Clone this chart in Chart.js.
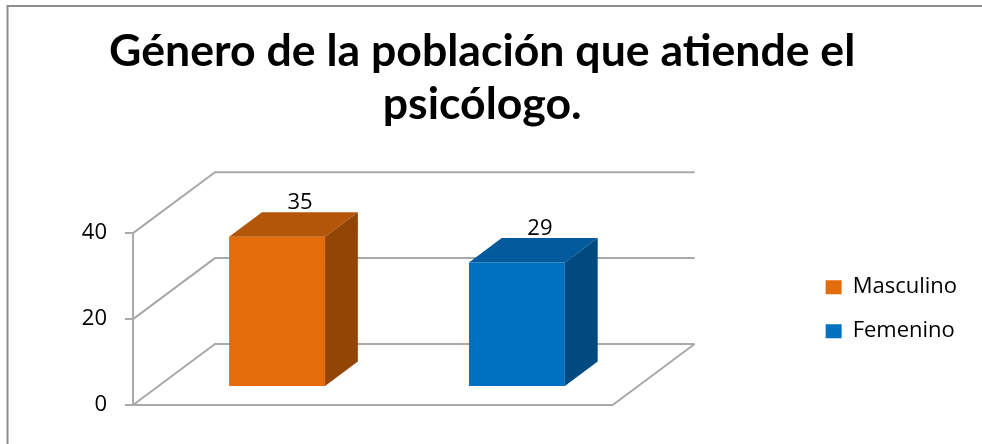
<!DOCTYPE html>
<html>
<head>
<meta charset="utf-8">
<script src="https://cdn.jsdelivr.net/npm/chart.js@4/dist/chart.umd.min.js"></script>
<style>
  html, body { margin: 0; padding: 0; background: #fff; }
  #wrap { width: 982px; height: 444px; position: relative; }
</style>
</head>
<body>
<div id="wrap"><canvas id="chart"></canvas></div>
<script>
const titleLines = ['Género de la población que atiende el', 'psicólogo.'];
const categories = [''];
const seriesNames = ['Masculino', 'Femenino'];
const masculino = [35];
const femenino = [29];
const yTicks = [0, 20, 40];

const frontColors = ['#E46C0A', '#0070C0'];
const topColors = ['#B4560A', '#005A9C'];
const sideColors = ['#934506', '#004A80'];
const gridColor = '#a9a9a9';
const textFont = '"Open Sans", sans-serif';

// 3d depth of the floor, and where the bars sit inside it
const depth = { dx: 82, dy: -61 };
const barFront = 0.295;
const barDepth = 0.4;

// legend placement: text block starts right of the plot
const legendFontSize = 22;
const legendPad = 22;
const legendBox = 16;
const legendLeft = 801;

const measure = document.createElement('canvas').getContext('2d');
measure.font = legendFontSize + 'px ' + textFont;
const legendTextW = Math.max(...seriesNames.map(s => measure.measureText(s).width));
const legendW = legendPad + legendBox + legendFontSize / 2 + legendTextW + 10;
const padRight = Math.max(0, 982 - legendLeft - legendW);

const bar3d = {
    id: 'bar3d',
    beforeDraw(chart) {
        const ctx = chart.ctx;
        const y = chart.scales.y;
        const { left, right } = chart.chartArea;
        ctx.save();
        // outer frame
        ctx.strokeStyle = '#8e8e8e';
        ctx.lineWidth = 2;
        ctx.beginPath();
        ctx.moveTo(7.5, 444);
        ctx.lineTo(7.5, 6);
        ctx.lineTo(982, 6);
        ctx.stroke();

        ctx.strokeStyle = gridColor;
        ctx.lineWidth = 2;
        ctx.beginPath();
        yTicks.forEach(v => {
            const py = y.getPixelForValue(v);
            ctx.moveTo(left, py);
            ctx.lineTo(left + depth.dx, py + depth.dy);
            ctx.lineTo(right + depth.dx, py + depth.dy);
        });
        const y0 = y.getPixelForValue(0);
        ctx.moveTo(left, y0);
        ctx.lineTo(right, y0);
        ctx.lineTo(right + depth.dx, y0 + depth.dy);
        ctx.stroke();
        ctx.restore();
    },
    beforeDatasetsDraw(chart) {
        chart.ctx.save();
        chart.ctx.translate(depth.dx * barFront, depth.dy * barFront);
    },
    afterDatasetsDraw(chart) {
        const ctx = chart.ctx;
        const bdx = depth.dx * barDepth;
        const bdy = depth.dy * barDepth;
        chart.data.datasets.forEach((ds, i) => {
            chart.getDatasetMeta(i).data.forEach((bar, j) => {
                const p = bar.getProps(['x', 'y', 'base', 'width'], true);
                const l = p.x - p.width / 2;
                const r = p.x + p.width / 2;
                ctx.fillStyle = topColors[i];
                ctx.beginPath();
                ctx.moveTo(l, p.y);
                ctx.lineTo(l + bdx, p.y + bdy);
                ctx.lineTo(r + bdx, p.y + bdy);
                ctx.lineTo(r, p.y);
                ctx.closePath();
                ctx.fill();
                ctx.fillStyle = sideColors[i];
                ctx.beginPath();
                ctx.moveTo(r, p.y);
                ctx.lineTo(r + bdx, p.y + bdy);
                ctx.lineTo(r + bdx, p.base + bdy);
                ctx.lineTo(r, p.base);
                ctx.closePath();
                ctx.fill();

                ctx.fillStyle = '#000';
                ctx.font = '22px ' + textFont;
                ctx.textAlign = 'center';
                ctx.textBaseline = 'alphabetic';
                ctx.fillText(String(ds.data[j]), p.x + bdx * 0.7, p.y + bdy - 3);
            });
        });
        ctx.restore();
    }
};

new Chart(document.getElementById('chart'), {
    type: 'bar',
    data: {
        labels: categories,
        datasets: [
            { label: seriesNames[0], data: masculino, backgroundColor: frontColors[0], borderWidth: 0 },
            { label: seriesNames[1], data: femenino, backgroundColor: frontColors[1], borderWidth: 0 }
        ]
    },
    options: {
        responsive: true,
        maintainAspectRatio: false,
        animation: false,
        layout: { padding: { left: 0, top: 0, right: padRight, bottom: 39 } },
        datasets: { bar: { categoryPercentage: 1.0, barPercentage: 0.4, clip: false } },
        scales: {
            x: { display: false },
            y: {
                min: yTicks[0],
                max: yTicks[yTicks.length - 1],
                afterFit(scale) { scale.width = 133; },
                afterBuildTicks(scale) { scale.ticks = yTicks.map(v => ({ value: v })); },
                ticks: { padding: 18, color: '#000', font: { family: textFont, size: 22 } },
                grid: { drawOnChartArea: false, drawTicks: true, tickLength: 8, color: gridColor, lineWidth: 2 },
                border: { display: true, color: gridColor, width: 2 }
            },
            spacer: {
                type: 'linear',
                position: 'right',
                display: true,
                afterFit(scale) { scale.width = legendLeft - 610; },
                ticks: { display: false },
                grid: { display: false },
                border: { display: false }
            }
        },
        plugins: {
            title: {
                display: true,
                text: titleLines,
                color: '#000',
                font: { family: 'Lato, sans-serif', weight: 'bold', size: 44.6, lineHeight: 1.19 },
                padding: { top: 25, bottom: 102 }
            },
            legend: {
                position: 'right',
                align: 'start',
                fullSize: false,
                title: { display: true, text: '', font: { size: 10, lineHeight: 1 }, padding: { top: 11, bottom: 0 } },
                labels: {
                    boxWidth: legendBox,
                    boxHeight: 14,
                    padding: legendPad,
                    color: '#000',
                    font: { family: textFont, size: legendFontSize }
                }
            },
            tooltip: { enabled: false }
        }
    },
    plugins: [bar3d]
});
</script>
</body>
</html>
